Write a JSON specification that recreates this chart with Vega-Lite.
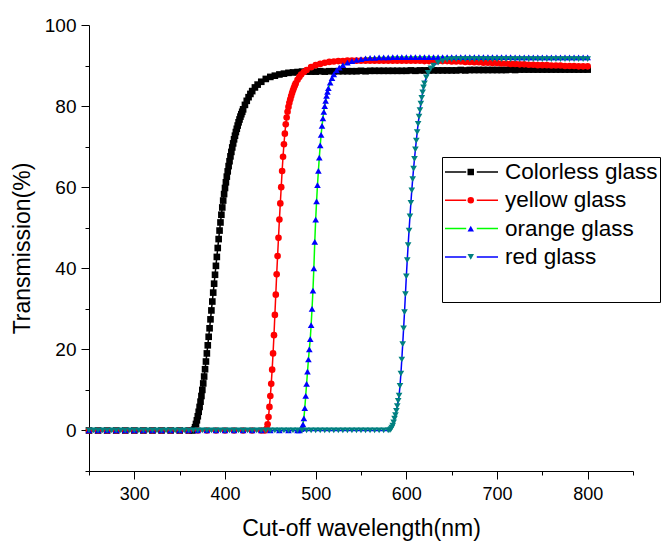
{
"$schema": "https://vega.github.io/schema/vega-lite/v6.json",
"width": 544, "height": 446,
"autosize": {"type": "none"},
"padding": {"left": 89, "top": 25, "right": 30, "bottom": 70},
"background": "white",
"config": {
 "view": {"stroke": null},
 "font": "Liberation Sans",
 "axis": {"grid": false, "domainColor": "#000", "tickColor": "#000", "labelColor": "#000", "titleColor": "#000", "labelFont": "Liberation Sans", "titleFont": "Liberation Sans", "titleFontWeight": "normal", "labelFontSize": 18, "titleFontSize": 23, "domainWidth": 1, "tickWidth": 1, "labelOverlap": false, "labelFlush": false}
},
"data": {"values": [
{"glass":"Colorless glass","nm":250,"T":0},{"glass":"Colorless glass","nm":260,"T":0},{"glass":"Colorless glass","nm":270,"T":0},{"glass":"Colorless glass","nm":280,"T":0},{"glass":"Colorless glass","nm":290,"T":0},{"glass":"Colorless glass","nm":300,"T":0},{"glass":"Colorless glass","nm":310,"T":0},{"glass":"Colorless glass","nm":320,"T":0},{"glass":"Colorless glass","nm":330,"T":0},{"glass":"Colorless glass","nm":340,"T":0},{"glass":"Colorless glass","nm":350,"T":0},{"glass":"Colorless glass","nm":360,"T":0},{"glass":"Colorless glass","nm":364,"T":0},
{"glass":"Colorless glass","nm":366,"T":0.2},{"glass":"Colorless glass","nm":367,"T":0.8},{"glass":"Colorless glass","nm":368,"T":1.6},{"glass":"Colorless glass","nm":369,"T":2.5},{"glass":"Colorless glass","nm":370,"T":3.5},{"glass":"Colorless glass","nm":371,"T":4.6},{"glass":"Colorless glass","nm":372,"T":5.8},{"glass":"Colorless glass","nm":373,"T":7.1},{"glass":"Colorless glass","nm":374,"T":8.5},{"glass":"Colorless glass","nm":375,"T":10},{"glass":"Colorless glass","nm":376,"T":11.6},{"glass":"Colorless glass","nm":377,"T":13.3},{"glass":"Colorless glass","nm":378,"T":15.1},{"glass":"Colorless glass","nm":379,"T":17},{"glass":"Colorless glass","nm":380,"T":19},{"glass":"Colorless glass","nm":381,"T":21},{"glass":"Colorless glass","nm":382,"T":23.1},{"glass":"Colorless glass","nm":383,"T":25.2},{"glass":"Colorless glass","nm":384,"T":27.4},{"glass":"Colorless glass","nm":385,"T":29.6},{"glass":"Colorless glass","nm":386,"T":31.8},{"glass":"Colorless glass","nm":387,"T":34},{"glass":"Colorless glass","nm":388,"T":36.2},{"glass":"Colorless glass","nm":389,"T":38.4},{"glass":"Colorless glass","nm":390,"T":40.6},{"glass":"Colorless glass","nm":391,"T":42.8},{"glass":"Colorless glass","nm":392,"T":45},{"glass":"Colorless glass","nm":393,"T":47.2},{"glass":"Colorless glass","nm":394,"T":49.3},{"glass":"Colorless glass","nm":395,"T":51.3},{"glass":"Colorless glass","nm":396,"T":53.2},{"glass":"Colorless glass","nm":397,"T":55},{"glass":"Colorless glass","nm":398,"T":56.7},{"glass":"Colorless glass","nm":399,"T":58.3},{"glass":"Colorless glass","nm":400,"T":59.8},{"glass":"Colorless glass","nm":401,"T":61.2},{"glass":"Colorless glass","nm":402,"T":62.6},{"glass":"Colorless glass","nm":403,"T":63.9},{"glass":"Colorless glass","nm":404,"T":65.2},{"glass":"Colorless glass","nm":405,"T":66.4},{"glass":"Colorless glass","nm":406,"T":67.6},{"glass":"Colorless glass","nm":407,"T":68.7},{"glass":"Colorless glass","nm":408,"T":69.8},{"glass":"Colorless glass","nm":409,"T":70.8},{"glass":"Colorless glass","nm":410,"T":71.8},{"glass":"Colorless glass","nm":411,"T":72.7},{"glass":"Colorless glass","nm":412,"T":73.6},{"glass":"Colorless glass","nm":413,"T":74.4},{"glass":"Colorless glass","nm":414,"T":75.2},{"glass":"Colorless glass","nm":415,"T":76},{"glass":"Colorless glass","nm":416,"T":76.7},{"glass":"Colorless glass","nm":417,"T":77.4},{"glass":"Colorless glass","nm":418,"T":78},{"glass":"Colorless glass","nm":419,"T":78.6},{"glass":"Colorless glass","nm":420,"T":79.2},{"glass":"Colorless glass","nm":422,"T":80.3},{"glass":"Colorless glass","nm":424,"T":81.3},{"glass":"Colorless glass","nm":426,"T":82.2},{"glass":"Colorless glass","nm":428,"T":83},{"glass":"Colorless glass","nm":430,"T":83.7},{"glass":"Colorless glass","nm":433,"T":84.6},{"glass":"Colorless glass","nm":436,"T":85.3},{"glass":"Colorless glass","nm":440,"T":86},{"glass":"Colorless glass","nm":445,"T":86.7},{"glass":"Colorless glass","nm":450,"T":87.2},{"glass":"Colorless glass","nm":455,"T":87.5},{"glass":"Colorless glass","nm":460,"T":87.8},{"glass":"Colorless glass","nm":465,"T":88},{"glass":"Colorless glass","nm":470,"T":88.2},{"glass":"Colorless glass","nm":475,"T":88.3},{"glass":"Colorless glass","nm":480,"T":88.4},
{"glass":"Colorless glass","nm":485,"T":88.5},{"glass":"Colorless glass","nm":490,"T":88.5},{"glass":"Colorless glass","nm":495,"T":88.5},{"glass":"Colorless glass","nm":500,"T":88.5},{"glass":"Colorless glass","nm":505,"T":88.6},{"glass":"Colorless glass","nm":510,"T":88.5},{"glass":"Colorless glass","nm":515,"T":88.6},{"glass":"Colorless glass","nm":520,"T":88.6},{"glass":"Colorless glass","nm":525,"T":88.6},{"glass":"Colorless glass","nm":530,"T":88.6},{"glass":"Colorless glass","nm":535,"T":88.6},{"glass":"Colorless glass","nm":540,"T":88.6},{"glass":"Colorless glass","nm":545,"T":88.6},{"glass":"Colorless glass","nm":550,"T":88.7},{"glass":"Colorless glass","nm":555,"T":88.6},{"glass":"Colorless glass","nm":560,"T":88.7},{"glass":"Colorless glass","nm":565,"T":88.7},{"glass":"Colorless glass","nm":570,"T":88.7},{"glass":"Colorless glass","nm":575,"T":88.7},{"glass":"Colorless glass","nm":580,"T":88.7},{"glass":"Colorless glass","nm":585,"T":88.7},{"glass":"Colorless glass","nm":590,"T":88.7},{"glass":"Colorless glass","nm":595,"T":88.7},{"glass":"Colorless glass","nm":600,"T":88.7},{"glass":"Colorless glass","nm":605,"T":88.8},{"glass":"Colorless glass","nm":610,"T":88.7},{"glass":"Colorless glass","nm":615,"T":88.8},{"glass":"Colorless glass","nm":620,"T":88.8},{"glass":"Colorless glass","nm":625,"T":88.8},{"glass":"Colorless glass","nm":630,"T":88.8},{"glass":"Colorless glass","nm":635,"T":88.8},{"glass":"Colorless glass","nm":640,"T":88.8},{"glass":"Colorless glass","nm":645,"T":88.8},{"glass":"Colorless glass","nm":650,"T":88.8},{"glass":"Colorless glass","nm":655,"T":88.8},{"glass":"Colorless glass","nm":660,"T":88.9},{"glass":"Colorless glass","nm":665,"T":88.8},{"glass":"Colorless glass","nm":670,"T":88.9},{"glass":"Colorless glass","nm":675,"T":88.9},{"glass":"Colorless glass","nm":680,"T":88.9},{"glass":"Colorless glass","nm":685,"T":88.9},{"glass":"Colorless glass","nm":690,"T":88.9},{"glass":"Colorless glass","nm":695,"T":88.9},{"glass":"Colorless glass","nm":700,"T":88.9},{"glass":"Colorless glass","nm":705,"T":88.9},{"glass":"Colorless glass","nm":710,"T":88.9},{"glass":"Colorless glass","nm":715,"T":89},{"glass":"Colorless glass","nm":720,"T":88.9},{"glass":"Colorless glass","nm":725,"T":89},{"glass":"Colorless glass","nm":730,"T":89},{"glass":"Colorless glass","nm":735,"T":89},{"glass":"Colorless glass","nm":740,"T":89},{"glass":"Colorless glass","nm":745,"T":89},{"glass":"Colorless glass","nm":750,"T":89},{"glass":"Colorless glass","nm":755,"T":89},{"glass":"Colorless glass","nm":760,"T":89},{"glass":"Colorless glass","nm":765,"T":89},{"glass":"Colorless glass","nm":770,"T":89},{"glass":"Colorless glass","nm":775,"T":89},{"glass":"Colorless glass","nm":780,"T":89},{"glass":"Colorless glass","nm":785,"T":89},{"glass":"Colorless glass","nm":790,"T":89},{"glass":"Colorless glass","nm":795,"T":89},{"glass":"Colorless glass","nm":800,"T":89},
{"glass":"yellow glass","nm":250,"T":0},{"glass":"yellow glass","nm":260,"T":0},{"glass":"yellow glass","nm":270,"T":0},{"glass":"yellow glass","nm":280,"T":0},{"glass":"yellow glass","nm":290,"T":0},{"glass":"yellow glass","nm":300,"T":0},{"glass":"yellow glass","nm":310,"T":0},{"glass":"yellow glass","nm":320,"T":0},{"glass":"yellow glass","nm":330,"T":0},{"glass":"yellow glass","nm":340,"T":0},{"glass":"yellow glass","nm":350,"T":0},{"glass":"yellow glass","nm":360,"T":0},{"glass":"yellow glass","nm":370,"T":0},{"glass":"yellow glass","nm":380,"T":0},{"glass":"yellow glass","nm":390,"T":0},{"glass":"yellow glass","nm":400,"T":0},{"glass":"yellow glass","nm":410,"T":0},{"glass":"yellow glass","nm":420,"T":0},{"glass":"yellow glass","nm":430,"T":0},{"glass":"yellow glass","nm":440,"T":0},{"glass":"yellow glass","nm":444,"T":0},
{"glass":"yellow glass","nm":446,"T":0.4},{"glass":"yellow glass","nm":447,"T":1.5},{"glass":"yellow glass","nm":448,"T":3.3},{"glass":"yellow glass","nm":449,"T":5.8},{"glass":"yellow glass","nm":450,"T":8.5},{"glass":"yellow glass","nm":451,"T":11.5},{"glass":"yellow glass","nm":452,"T":15},{"glass":"yellow glass","nm":453,"T":19},{"glass":"yellow glass","nm":454,"T":23.5},{"glass":"yellow glass","nm":455,"T":28.5},{"glass":"yellow glass","nm":456,"T":33.5},{"glass":"yellow glass","nm":457,"T":38.5},{"glass":"yellow glass","nm":458,"T":43},{"glass":"yellow glass","nm":459,"T":47.5},{"glass":"yellow glass","nm":460,"T":52},{"glass":"yellow glass","nm":461,"T":56},{"glass":"yellow glass","nm":462,"T":60},{"glass":"yellow glass","nm":463,"T":64},{"glass":"yellow glass","nm":464,"T":67.5},{"glass":"yellow glass","nm":465,"T":70.6},{"glass":"yellow glass","nm":466,"T":73.2},{"glass":"yellow glass","nm":467,"T":75.5},{"glass":"yellow glass","nm":468,"T":77.2},{"glass":"yellow glass","nm":469,"T":78.6},{"glass":"yellow glass","nm":470,"T":79.8},{"glass":"yellow glass","nm":471,"T":80.8},{"glass":"yellow glass","nm":472,"T":81.7},{"glass":"yellow glass","nm":473,"T":82.5},{"glass":"yellow glass","nm":474,"T":83.2},{"glass":"yellow glass","nm":475,"T":83.9},{"glass":"yellow glass","nm":476,"T":84.5},{"glass":"yellow glass","nm":477,"T":85.1},{"glass":"yellow glass","nm":478,"T":85.6},{"glass":"yellow glass","nm":480,"T":86.5},{"glass":"yellow glass","nm":482,"T":87.2},{"glass":"yellow glass","nm":484,"T":87.8},{"glass":"yellow glass","nm":487,"T":88.4},{"glass":"yellow glass","nm":490,"T":88.9},{"glass":"yellow glass","nm":495,"T":89.6},{"glass":"yellow glass","nm":500,"T":90.1},{"glass":"yellow glass","nm":505,"T":90.4},{"glass":"yellow glass","nm":510,"T":90.7},{"glass":"yellow glass","nm":515,"T":90.9},{"glass":"yellow glass","nm":520,"T":91},
{"glass":"yellow glass","nm":525,"T":91.1},{"glass":"yellow glass","nm":530,"T":91.1},{"glass":"yellow glass","nm":535,"T":91.2},{"glass":"yellow glass","nm":540,"T":91.2},{"glass":"yellow glass","nm":545,"T":91.2},{"glass":"yellow glass","nm":550,"T":91.2},{"glass":"yellow glass","nm":555,"T":91.2},{"glass":"yellow glass","nm":560,"T":91.2},{"glass":"yellow glass","nm":565,"T":91.2},{"glass":"yellow glass","nm":570,"T":91.2},{"glass":"yellow glass","nm":575,"T":91.2},{"glass":"yellow glass","nm":580,"T":91.2},{"glass":"yellow glass","nm":585,"T":91.2},{"glass":"yellow glass","nm":590,"T":91.2},{"glass":"yellow glass","nm":595,"T":91.2},{"glass":"yellow glass","nm":600,"T":91.2},{"glass":"yellow glass","nm":605,"T":91.2},{"glass":"yellow glass","nm":610,"T":91.2},{"glass":"yellow glass","nm":615,"T":91.2},{"glass":"yellow glass","nm":620,"T":91.1},{"glass":"yellow glass","nm":625,"T":91.1},{"glass":"yellow glass","nm":630,"T":91.1},{"glass":"yellow glass","nm":635,"T":91.1},{"glass":"yellow glass","nm":640,"T":91.1},{"glass":"yellow glass","nm":645,"T":91.1},{"glass":"yellow glass","nm":650,"T":91},{"glass":"yellow glass","nm":655,"T":91},{"glass":"yellow glass","nm":660,"T":91},{"glass":"yellow glass","nm":665,"T":90.9},{"glass":"yellow glass","nm":670,"T":90.9},{"glass":"yellow glass","nm":675,"T":90.8},{"glass":"yellow glass","nm":680,"T":90.8},{"glass":"yellow glass","nm":685,"T":90.7},{"glass":"yellow glass","nm":690,"T":90.7},{"glass":"yellow glass","nm":695,"T":90.6},{"glass":"yellow glass","nm":700,"T":90.6},{"glass":"yellow glass","nm":705,"T":90.5},{"glass":"yellow glass","nm":710,"T":90.5},{"glass":"yellow glass","nm":715,"T":90.4},{"glass":"yellow glass","nm":720,"T":90.4},{"glass":"yellow glass","nm":725,"T":90.3},{"glass":"yellow glass","nm":730,"T":90.3},{"glass":"yellow glass","nm":735,"T":90.2},{"glass":"yellow glass","nm":740,"T":90.2},{"glass":"yellow glass","nm":745,"T":90.1},{"glass":"yellow glass","nm":750,"T":90.1},{"glass":"yellow glass","nm":755,"T":90.1},{"glass":"yellow glass","nm":760,"T":90},{"glass":"yellow glass","nm":765,"T":90},{"glass":"yellow glass","nm":770,"T":90},{"glass":"yellow glass","nm":775,"T":89.9},{"glass":"yellow glass","nm":780,"T":89.9},{"glass":"yellow glass","nm":785,"T":89.9},{"glass":"yellow glass","nm":790,"T":89.8},{"glass":"yellow glass","nm":795,"T":89.8},{"glass":"yellow glass","nm":800,"T":89.8},
{"glass":"orange glass","nm":250,"T":0},{"glass":"orange glass","nm":260,"T":0},{"glass":"orange glass","nm":270,"T":0},{"glass":"orange glass","nm":280,"T":0},{"glass":"orange glass","nm":290,"T":0},{"glass":"orange glass","nm":300,"T":0},{"glass":"orange glass","nm":310,"T":0},{"glass":"orange glass","nm":320,"T":0},{"glass":"orange glass","nm":330,"T":0},{"glass":"orange glass","nm":340,"T":0},{"glass":"orange glass","nm":350,"T":0},{"glass":"orange glass","nm":360,"T":0},{"glass":"orange glass","nm":370,"T":0},{"glass":"orange glass","nm":380,"T":0},{"glass":"orange glass","nm":390,"T":0},{"glass":"orange glass","nm":400,"T":0},{"glass":"orange glass","nm":410,"T":0},{"glass":"orange glass","nm":420,"T":0},{"glass":"orange glass","nm":430,"T":0},{"glass":"orange glass","nm":440,"T":0},{"glass":"orange glass","nm":450,"T":0},{"glass":"orange glass","nm":460,"T":0},{"glass":"orange glass","nm":470,"T":0},{"glass":"orange glass","nm":480,"T":0},{"glass":"orange glass","nm":482,"T":0},
{"glass":"orange glass","nm":484,"T":0.3},{"glass":"orange glass","nm":485,"T":0.8},{"glass":"orange glass","nm":486,"T":1.5},{"glass":"orange glass","nm":487,"T":3},{"glass":"orange glass","nm":488,"T":5.5},{"glass":"orange glass","nm":489,"T":8.5},{"glass":"orange glass","nm":490,"T":11.5},{"glass":"orange glass","nm":491,"T":14.5},{"glass":"orange glass","nm":492,"T":17.5},{"glass":"orange glass","nm":493,"T":20},{"glass":"orange glass","nm":494,"T":22.5},{"glass":"orange glass","nm":495,"T":26},{"glass":"orange glass","nm":496,"T":30},{"glass":"orange glass","nm":497,"T":34.5},{"glass":"orange glass","nm":498,"T":40},{"glass":"orange glass","nm":499,"T":46.5},{"glass":"orange glass","nm":500,"T":52},{"glass":"orange glass","nm":501,"T":56.5},{"glass":"orange glass","nm":502,"T":60.5},{"glass":"orange glass","nm":503,"T":64},{"glass":"orange glass","nm":504,"T":67.3},{"glass":"orange glass","nm":505,"T":70.3},{"glass":"orange glass","nm":506,"T":72.9},{"glass":"orange glass","nm":507,"T":75.1},{"glass":"orange glass","nm":508,"T":77},{"glass":"orange glass","nm":509,"T":78.6},{"glass":"orange glass","nm":510,"T":80},{"glass":"orange glass","nm":511,"T":81.3},{"glass":"orange glass","nm":512,"T":82.5},{"glass":"orange glass","nm":513,"T":83.5},{"glass":"orange glass","nm":514,"T":84.4},{"glass":"orange glass","nm":516,"T":85.8},{"glass":"orange glass","nm":518,"T":86.9},{"glass":"orange glass","nm":520,"T":87.8},{"glass":"orange glass","nm":523,"T":88.8},{"glass":"orange glass","nm":526,"T":89.5},{"glass":"orange glass","nm":530,"T":90.1},{"glass":"orange glass","nm":535,"T":90.7},{"glass":"orange glass","nm":540,"T":91.1},{"glass":"orange glass","nm":545,"T":91.4},{"glass":"orange glass","nm":550,"T":91.6},
{"glass":"orange glass","nm":555,"T":91.8},{"glass":"orange glass","nm":560,"T":91.9},{"glass":"orange glass","nm":565,"T":91.9},{"glass":"orange glass","nm":570,"T":92},{"glass":"orange glass","nm":575,"T":92},{"glass":"orange glass","nm":580,"T":92},{"glass":"orange glass","nm":585,"T":92.1},{"glass":"orange glass","nm":590,"T":92.1},{"glass":"orange glass","nm":595,"T":92.1},{"glass":"orange glass","nm":600,"T":92.1},{"glass":"orange glass","nm":605,"T":92.1},{"glass":"orange glass","nm":610,"T":92.1},{"glass":"orange glass","nm":615,"T":92.1},{"glass":"orange glass","nm":620,"T":92.1},{"glass":"orange glass","nm":625,"T":92.1},{"glass":"orange glass","nm":630,"T":92.1},{"glass":"orange glass","nm":635,"T":92.1},{"glass":"orange glass","nm":640,"T":92.1},{"glass":"orange glass","nm":645,"T":92.1},{"glass":"orange glass","nm":650,"T":92.1},{"glass":"orange glass","nm":655,"T":92.1},{"glass":"orange glass","nm":660,"T":92.1},{"glass":"orange glass","nm":665,"T":92.1},{"glass":"orange glass","nm":670,"T":92.1},{"glass":"orange glass","nm":675,"T":92.1},{"glass":"orange glass","nm":680,"T":92.1},{"glass":"orange glass","nm":685,"T":92.1},{"glass":"orange glass","nm":690,"T":92.1},{"glass":"orange glass","nm":695,"T":92.1},{"glass":"orange glass","nm":700,"T":92.1},{"glass":"orange glass","nm":705,"T":92.1},{"glass":"orange glass","nm":710,"T":92.1},{"glass":"orange glass","nm":715,"T":92.1},{"glass":"orange glass","nm":720,"T":92},{"glass":"orange glass","nm":725,"T":92},{"glass":"orange glass","nm":730,"T":92},{"glass":"orange glass","nm":735,"T":92},{"glass":"orange glass","nm":740,"T":92},{"glass":"orange glass","nm":745,"T":92},{"glass":"orange glass","nm":750,"T":92},{"glass":"orange glass","nm":755,"T":92},{"glass":"orange glass","nm":760,"T":92},{"glass":"orange glass","nm":765,"T":92},{"glass":"orange glass","nm":770,"T":92},{"glass":"orange glass","nm":775,"T":92},{"glass":"orange glass","nm":780,"T":92},{"glass":"orange glass","nm":785,"T":92},{"glass":"orange glass","nm":790,"T":92},{"glass":"orange glass","nm":795,"T":92},{"glass":"orange glass","nm":800,"T":92},
{"glass":"red glass","nm":250,"T":0},{"glass":"red glass","nm":255,"T":0},{"glass":"red glass","nm":260,"T":0},{"glass":"red glass","nm":265,"T":0},{"glass":"red glass","nm":270,"T":0},{"glass":"red glass","nm":275,"T":0},{"glass":"red glass","nm":280,"T":0},{"glass":"red glass","nm":285,"T":0},{"glass":"red glass","nm":290,"T":0},{"glass":"red glass","nm":295,"T":0},{"glass":"red glass","nm":300,"T":0},{"glass":"red glass","nm":305,"T":0},{"glass":"red glass","nm":310,"T":0},{"glass":"red glass","nm":315,"T":0},{"glass":"red glass","nm":320,"T":0},{"glass":"red glass","nm":325,"T":0},{"glass":"red glass","nm":330,"T":0},{"glass":"red glass","nm":335,"T":0},{"glass":"red glass","nm":340,"T":0},{"glass":"red glass","nm":345,"T":0},{"glass":"red glass","nm":350,"T":0},{"glass":"red glass","nm":355,"T":0},{"glass":"red glass","nm":360,"T":0},{"glass":"red glass","nm":365,"T":0},{"glass":"red glass","nm":370,"T":0},{"glass":"red glass","nm":375,"T":0},{"glass":"red glass","nm":380,"T":0},{"glass":"red glass","nm":385,"T":0},{"glass":"red glass","nm":390,"T":0},{"glass":"red glass","nm":395,"T":0},{"glass":"red glass","nm":400,"T":0},{"glass":"red glass","nm":405,"T":0},{"glass":"red glass","nm":410,"T":0},{"glass":"red glass","nm":415,"T":0},{"glass":"red glass","nm":420,"T":0},{"glass":"red glass","nm":425,"T":0},{"glass":"red glass","nm":430,"T":0},{"glass":"red glass","nm":435,"T":0},{"glass":"red glass","nm":440,"T":0},{"glass":"red glass","nm":445,"T":0},{"glass":"red glass","nm":450,"T":0},{"glass":"red glass","nm":455,"T":0},{"glass":"red glass","nm":460,"T":0},{"glass":"red glass","nm":465,"T":0},{"glass":"red glass","nm":470,"T":0},{"glass":"red glass","nm":475,"T":0},{"glass":"red glass","nm":480,"T":0},{"glass":"red glass","nm":485,"T":0},{"glass":"red glass","nm":490,"T":0},{"glass":"red glass","nm":495,"T":0},{"glass":"red glass","nm":500,"T":0},{"glass":"red glass","nm":505,"T":0},{"glass":"red glass","nm":510,"T":0},{"glass":"red glass","nm":515,"T":0},{"glass":"red glass","nm":520,"T":0},{"glass":"red glass","nm":525,"T":0},{"glass":"red glass","nm":530,"T":0},{"glass":"red glass","nm":535,"T":0},{"glass":"red glass","nm":540,"T":0},{"glass":"red glass","nm":545,"T":0},{"glass":"red glass","nm":550,"T":0},{"glass":"red glass","nm":555,"T":0},{"glass":"red glass","nm":560,"T":0},{"glass":"red glass","nm":565,"T":0},{"glass":"red glass","nm":570,"T":0},{"glass":"red glass","nm":575,"T":0},{"glass":"red glass","nm":580,"T":0},
{"glass":"red glass","nm":582,"T":0.1},{"glass":"red glass","nm":583,"T":0.3},{"glass":"red glass","nm":584,"T":0.7},{"glass":"red glass","nm":585,"T":1.2},{"glass":"red glass","nm":586,"T":2},{"glass":"red glass","nm":587,"T":2.9},{"glass":"red glass","nm":588,"T":3.8},{"glass":"red glass","nm":589,"T":4.8},{"glass":"red glass","nm":590,"T":6},{"glass":"red glass","nm":591,"T":7.3},{"glass":"red glass","nm":592,"T":8.6},{"glass":"red glass","nm":593,"T":11},{"glass":"red glass","nm":594,"T":14},{"glass":"red glass","nm":595,"T":17.5},{"glass":"red glass","nm":596,"T":21.3},{"glass":"red glass","nm":597,"T":25.2},{"glass":"red glass","nm":598,"T":29.2},{"glass":"red glass","nm":599,"T":33.6},{"glass":"red glass","nm":600,"T":38},{"glass":"red glass","nm":601,"T":42},{"glass":"red glass","nm":602,"T":45.7},{"glass":"red glass","nm":603,"T":49.3},{"glass":"red glass","nm":604,"T":52.8},{"glass":"red glass","nm":605,"T":56.1},{"glass":"red glass","nm":606,"T":59.2},{"glass":"red glass","nm":607,"T":62},{"glass":"red glass","nm":608,"T":64.6},{"glass":"red glass","nm":609,"T":67},{"glass":"red glass","nm":610,"T":69.3},{"glass":"red glass","nm":611,"T":71.5},{"glass":"red glass","nm":612,"T":73.6},{"glass":"red glass","nm":613,"T":75.6},{"glass":"red glass","nm":614,"T":77.4},{"glass":"red glass","nm":615,"T":79},{"glass":"red glass","nm":616,"T":80.6},{"glass":"red glass","nm":617,"T":82},{"glass":"red glass","nm":618,"T":83.4},{"glass":"red glass","nm":619,"T":84.6},{"glass":"red glass","nm":620,"T":85.6},{"glass":"red glass","nm":622,"T":87.1},{"glass":"red glass","nm":624,"T":88.2},{"glass":"red glass","nm":627,"T":89.3},{"glass":"red glass","nm":630,"T":90},{"glass":"red glass","nm":635,"T":90.7},{"glass":"red glass","nm":640,"T":91.1},{"glass":"red glass","nm":645,"T":91.4},{"glass":"red glass","nm":650,"T":91.5},
{"glass":"red glass","nm":655,"T":91.6},{"glass":"red glass","nm":660,"T":91.6},{"glass":"red glass","nm":665,"T":91.6},{"glass":"red glass","nm":670,"T":91.6},{"glass":"red glass","nm":675,"T":91.6},{"glass":"red glass","nm":680,"T":91.6},{"glass":"red glass","nm":685,"T":91.6},{"glass":"red glass","nm":690,"T":91.6},{"glass":"red glass","nm":695,"T":91.6},{"glass":"red glass","nm":700,"T":91.6},{"glass":"red glass","nm":705,"T":91.6},{"glass":"red glass","nm":710,"T":91.6},{"glass":"red glass","nm":715,"T":91.6},{"glass":"red glass","nm":720,"T":91.6},{"glass":"red glass","nm":725,"T":91.6},{"glass":"red glass","nm":730,"T":91.6},{"glass":"red glass","nm":735,"T":91.6},{"glass":"red glass","nm":740,"T":91.6},{"glass":"red glass","nm":745,"T":91.6},{"glass":"red glass","nm":750,"T":91.6},{"glass":"red glass","nm":755,"T":91.6},{"glass":"red glass","nm":760,"T":91.6},{"glass":"red glass","nm":765,"T":91.6},{"glass":"red glass","nm":770,"T":91.6},{"glass":"red glass","nm":775,"T":91.6},{"glass":"red glass","nm":780,"T":91.6},{"glass":"red glass","nm":785,"T":91.6},{"glass":"red glass","nm":790,"T":91.6},{"glass":"red glass","nm":795,"T":91.6},{"glass":"red glass","nm":800,"T":91.6}
]},
"layer": [
 {"mark": {"type": "line", "strokeWidth": 1.5},
  "encoding": {
   "x": {"field": "nm", "type": "quantitative", "scale": {"domain": [250, 850], "nice": false, "zero": false},
     "axis": {"values": [250,300,350,400,450,500,550,600,650,700,750,800,850], "labelExpr": "datum.value % 100 == 0 ? datum.label : ''", "tickSize": {"condition": {"test": "datum.value % 100 == 0", "value": 8}, "value": 4}, "labelPadding": 6, "title": "Cut-off wavelength(nm)", "titlePadding": 14}},
   "y": {"field": "T", "type": "quantitative", "scale": {"domain": [-10, 100], "nice": false, "zero": false},
     "axis": {"values": [-10,0,10,20,30,40,50,60,70,80,90,100], "labelExpr": "datum.value % 20 == 0 ? datum.label : ''", "tickSize": {"condition": {"test": "datum.value % 20 == 0", "value": 8}, "value": 4}, "labelPadding": 5, "labelFontSize": 19, "title": "Transmission(%)", "titlePadding": 10}},
   "color": {"field": "glass", "type": "nominal", "sort": ["Colorless glass", "yellow glass", "orange glass", "red glass"],
     "scale": {"range": ["#000000", "#ff0000", "#00ff00", "#0000ff"]},
     "legend": {"orient": "none", "legendX": 353, "legendY": 132, "title": "\u00a0", "titleOrient": "bottom", "titleFontSize": 20, "titlePadding": 10, "strokeColor": "#000", "fillColor": null, "padding": 2, "symbolType": "M-1,0H-0.2M0.2,0H1", "symbolSize": 2809, "symbolStrokeWidth": 1.5, "labelFontSize": 22.5, "labelFont": "Liberation Sans", "labelColor": "#000", "labelOffset": 6, "labelLimit": 400, "clipHeight": 26, "rowPadding": 2.3}}
  }},
 {"mark": {"type": "point", "filled": true, "size": 44, "opacity": 1, "strokeWidth": 0},
  "encoding": {
   "x": {"field": "nm", "type": "quantitative"},
   "y": {"field": "T", "type": "quantitative"},
   "fill": {"field": "glass", "type": "nominal",
     "scale": {"domain": ["Colorless glass", "yellow glass", "orange glass", "red glass"], "range": ["#000000", "#ff0000", "#0000ff", "#008080"]},
     "legend": {"orient": "none", "legendX": 368.5, "legendY": 132, "title": "\u00a0", "titleOrient": "bottom", "titleFontSize": 20, "titlePadding": 10, "strokeColor": null, "fillColor": null, "padding": 2, "symbolSize": 42, "symbolStrokeWidth": 0, "labelFontSize": 22.5, "labelExpr": "''", "labelOffset": 6, "clipHeight": 26, "rowPadding": 2.3}},
   "shape": {"field": "glass", "type": "nominal",
     "scale": {"domain": ["Colorless glass", "yellow glass", "orange glass", "red glass"], "range": ["square", "circle", "triangle-up", "triangle-down"]},
     "legend": {"orient": "none", "legendX": 368.5, "legendY": 132, "title": "\u00a0", "titleOrient": "bottom", "titleFontSize": 20, "titlePadding": 10, "strokeColor": null, "fillColor": null, "padding": 2, "symbolSize": 42, "symbolStrokeWidth": 0, "labelFontSize": 22.5, "labelExpr": "''", "labelOffset": 6, "clipHeight": 26, "rowPadding": 2.3}}
  }}
]
}
